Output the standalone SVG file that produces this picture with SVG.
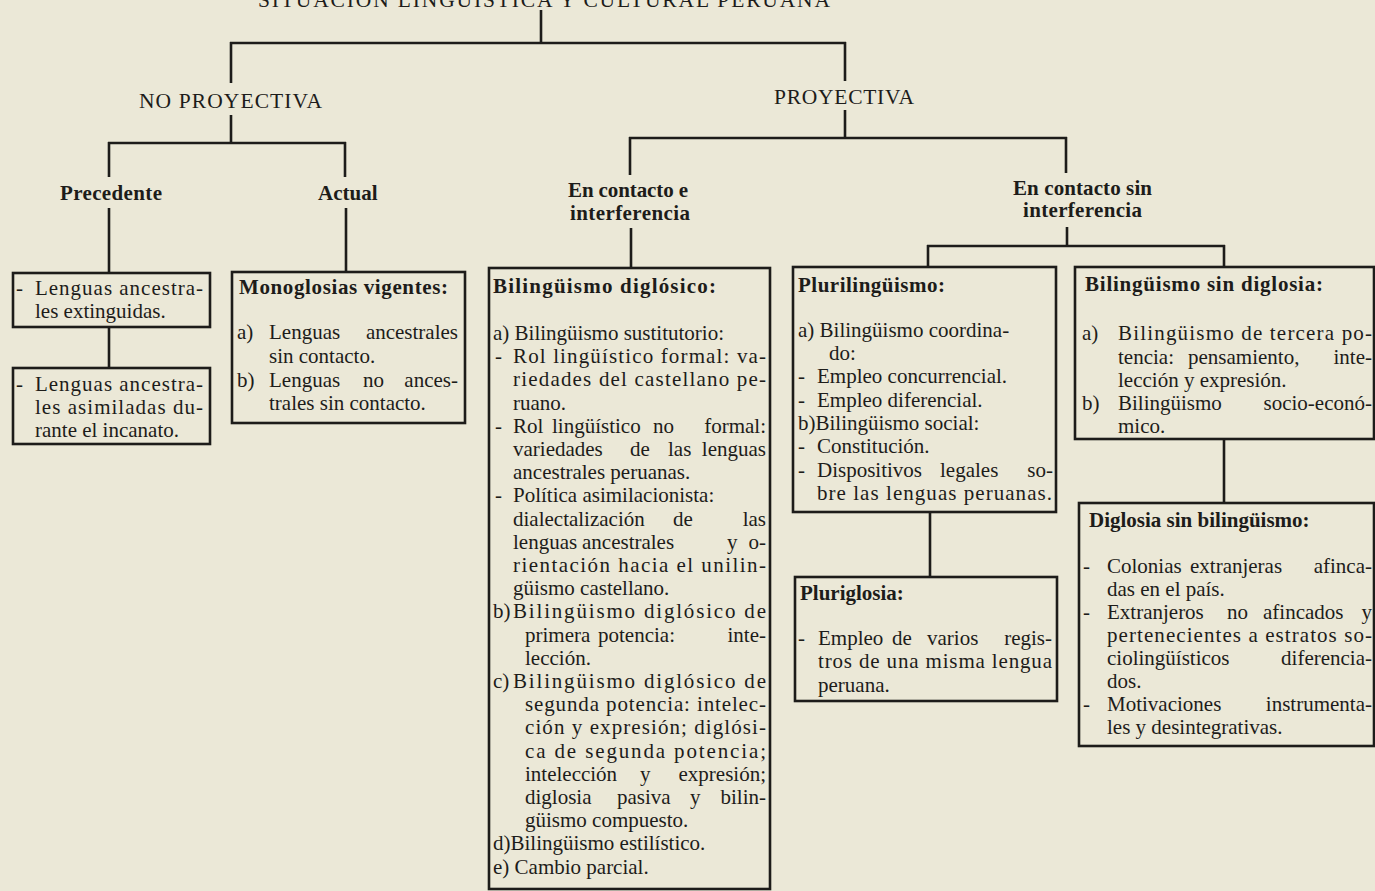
<svg xmlns="http://www.w3.org/2000/svg" width="1375" height="891" viewBox="0 0 1375 891">
<style>
text{font-family:"Liberation Serif","Times New Roman",serif;fill:#1d1c1a;font-size:21px}
.b{font-weight:bold}
.h{font-size:21.5px}
.e{text-anchor:end}
.box{fill:none;stroke:#1d1c1a;stroke-width:2.6}
.con line{stroke:#1d1c1a;stroke-width:2.6}
</style>
<rect x="0" y="0" width="1375" height="891" fill="#ebe8d7"/>

<g id="title">
<text class="h" x="258" y="7" textLength="572">SITUACIÓN LINGÜÍSTICA Y CULTURAL PERUANA</text>
</g>

<g class="con" id="connectors">
<line x1="541" y1="10" x2="541" y2="44"/>
<line x1="230" y1="43" x2="846" y2="43"/>
<line x1="231" y1="42" x2="231" y2="83"/>
<line x1="845" y1="42" x2="845" y2="81"/>
<line x1="231" y1="115" x2="231" y2="143"/>
<line x1="108" y1="143" x2="346" y2="143"/>
<line x1="109" y1="142" x2="109" y2="177"/>
<line x1="345" y1="142" x2="345" y2="177"/>
<line x1="109" y1="208" x2="109" y2="273"/>
<line x1="109" y1="327" x2="109" y2="368"/>
<line x1="346" y1="208" x2="346" y2="272"/>
<line x1="845" y1="110" x2="845" y2="138"/>
<line x1="629" y1="138" x2="1067" y2="138"/>
<line x1="630" y1="137" x2="630" y2="175"/>
<line x1="1066" y1="137" x2="1066" y2="173"/>
<line x1="631" y1="228" x2="631" y2="268"/>
<line x1="1067" y1="227" x2="1067" y2="246"/>
<line x1="927" y1="246" x2="1225" y2="246"/>
<line x1="928" y1="245" x2="928" y2="267"/>
<line x1="1224" y1="245" x2="1224" y2="267"/>
<line x1="930" y1="512" x2="930" y2="577"/>
<line x1="1224" y1="439" x2="1224" y2="503"/>
</g>

<g id="no-proyectiva">
<text class="h" x="139" y="108" textLength="183">NO PROYECTIVA</text>
</g>
<g id="proyectiva">
<text class="h" x="774" y="104" textLength="140">PROYECTIVA</text>
</g>
<g id="precedente">
<text class="b" x="60" y="200" textLength="102">Precedente</text>
</g>
<g id="actual">
<text class="b" x="318" y="200">Actual</text>
</g>
<g id="en-contacto-e">
<text class="b" x="568" y="197" textLength="120">En contacto e</text>
<text class="b" x="570" y="220" textLength="120">interferencia</text>
</g>
<g id="en-contacto-sin">
<text class="b" x="1013" y="195" textLength="139">En contacto sin</text>
<text class="b" x="1023" y="217" textLength="119">interferencia</text>
</g>

<g id="box-extinguidas">
<rect class="box" x="13" y="273" width="197" height="54"/>
<text x="16" y="295">-</text>
<text x="35" y="295" textLength="168">Lenguas ancestra-</text>
<text x="35" y="318">les extinguidas.</text>
</g>

<g id="box-asimiladas">
<rect class="box" x="13" y="368" width="197" height="76"/>
<text x="16" y="391">-</text>
<text x="35" y="391" textLength="168">Lenguas ancestra-</text>
<text x="35" y="414" textLength="168">les asimiladas du-</text>
<text x="35" y="437">rante el incanato.</text>
</g>

<g id="box-monoglosias">
<rect class="box" x="232" y="272" width="233" height="151"/>
<text class="b" x="239" y="294" textLength="209">Monoglosias vigentes:</text>
<text x="237" y="339">a)</text>
<text x="269" y="339">Lenguas</text>
<text class="e" x="458" y="339">ancestrales</text>
<text x="269" y="363">sin contacto.</text>
<text x="237" y="387">b)</text>
<text x="269" y="387">Lenguas</text>
<text x="363" y="387">no</text>
<text class="e" x="458" y="387">ances-</text>
<text x="269" y="410">trales sin contacto.</text>
</g>

<g id="box-bilinguismo-diglosico">
<rect class="box" x="489" y="268" width="281" height="621"/>
<text class="b" x="493" y="293" textLength="223">Bilingüismo diglósico:</text>
<text x="493" y="340">a) Bilingüismo sustitutorio:</text>
<text x="495" y="363">-</text>
<text x="513" y="363" textLength="253">Rol lingüístico formal: va-</text>
<text x="513" y="386" textLength="253">riedades del castellano pe-</text>
<text x="513" y="410">ruano.</text>
<text x="495" y="433">-</text>
<text x="513" y="433">Rol</text>
<text x="552" y="433">lingüístico</text>
<text x="653" y="433">no</text>
<text class="e" x="766" y="433">formal:</text>
<text x="513" y="456">variedades</text>
<text x="630" y="456">de</text>
<text x="668" y="456">las</text>
<text class="e" x="766" y="456">lenguas</text>
<text x="513" y="479">ancestrales peruanas.</text>
<text x="495" y="502">-</text>
<text x="513" y="502">Política asimilacionista:</text>
<text x="513" y="526">dialectalización</text>
<text x="673" y="526">de</text>
<text class="e" x="766" y="526">las</text>
<text x="513" y="549">lenguas</text>
<text x="582" y="549">ancestrales</text>
<text x="727" y="549">y</text>
<text class="e" x="766" y="549">o-</text>
<text x="513" y="572" textLength="253">rientación hacia el unilin-</text>
<text x="513" y="595">güismo castellano.</text>
<text x="493" y="618">b)</text>
<text x="513" y="618" textLength="253">Bilingüismo diglósico de</text>
<text x="525" y="642">primera</text>
<text x="598" y="642">potencia:</text>
<text class="e" x="766" y="642">inte-</text>
<text x="525" y="665">lección.</text>
<text x="493" y="688">c)</text>
<text x="513" y="688" textLength="253">Bilingüismo diglósico de</text>
<text x="525" y="711" textLength="241">segunda potencia: intelec-</text>
<text x="525" y="734" textLength="241">ción y expresión; diglósi-</text>
<text x="525" y="758" textLength="241">ca de segunda potencia;</text>
<text x="525" y="781">intelección</text>
<text x="640" y="781">y</text>
<text class="e" x="766" y="781">expresión;</text>
<text x="525" y="804">diglosia</text>
<text x="617" y="804">pasiva</text>
<text x="690" y="804">y</text>
<text class="e" x="766" y="804">bilin-</text>
<text x="525" y="827">güismo compuesto.</text>
<text x="493" y="850">d)Bilingüismo estilístico.</text>
<text x="493" y="874">e) Cambio parcial.</text>
</g>

<g id="box-plurilinguismo">
<rect class="box" x="793" y="267" width="263" height="245"/>
<text class="b" x="798" y="292" textLength="147">Plurilingüismo:</text>
<text x="798" y="337">a) Bilingüismo coordina-</text>
<text x="829" y="360">do:</text>
<text x="798" y="383">-</text>
<text x="817" y="383">Empleo concurrencial.</text>
<text x="798" y="407">-</text>
<text x="817" y="407">Empleo diferencial.</text>
<text x="798" y="430">b)Bilingüismo social:</text>
<text x="798" y="453">-</text>
<text x="817" y="453">Constitución.</text>
<text x="798" y="477">-</text>
<text x="817" y="477">Dispositivos</text>
<text x="940" y="477">legales</text>
<text class="e" x="1053" y="477">so-</text>
<text x="817" y="500" textLength="235">bre las lenguas peruanas.</text>
</g>

<g id="box-pluriglosia">
<rect class="box" x="795" y="577" width="262" height="124"/>
<text class="b" x="800" y="600">Pluriglosia:</text>
<text x="798" y="645">-</text>
<text x="818" y="645">Empleo</text>
<text x="892" y="645">de</text>
<text x="927" y="645">varios</text>
<text class="e" x="1052" y="645">regis-</text>
<text x="818" y="668" textLength="234">tros de una misma lengua</text>
<text x="818" y="692">peruana.</text>
</g>

<g id="box-bilinguismo-sin-diglosia">
<rect class="box" x="1075" y="267" width="299" height="172"/>
<text class="b" x="1085" y="291" textLength="238">Bilingüismo sin diglosia:</text>
<text x="1082" y="340">a)</text>
<text x="1118" y="340" textLength="254">Bilingüismo de tercera po-</text>
<text x="1118" y="364">tencia:</text>
<text x="1188" y="364">pensamiento,</text>
<text class="e" x="1372" y="364">inte-</text>
<text x="1118" y="387">lección y expresión.</text>
<text x="1082" y="410">b)</text>
<text x="1118" y="410">Bilingüismo</text>
<text class="e" x="1372" y="410">socio-econó-</text>
<text x="1118" y="433">mico.</text>
</g>

<g id="box-diglosia-sin-bilinguismo">
<rect class="box" x="1079" y="503" width="295" height="243"/>
<text class="b" x="1089" y="527">Diglosia sin bilingüismo:</text>
<text x="1083" y="573">-</text>
<text x="1107" y="573">Colonias</text>
<text x="1190" y="573">extranjeras</text>
<text class="e" x="1372" y="573">afinca-</text>
<text x="1107" y="596">das en el país.</text>
<text x="1083" y="619">-</text>
<text x="1107" y="619">Extranjeros</text>
<text x="1227" y="619">no</text>
<text x="1263" y="619">afincados</text>
<text class="e" x="1372" y="619">y</text>
<text x="1107" y="642" textLength="265">pertenecientes a estratos so-</text>
<text x="1107" y="665">ciolingüísticos</text>
<text class="e" x="1372" y="665">diferencia-</text>
<text x="1107" y="688">dos.</text>
<text x="1083" y="711">-</text>
<text x="1107" y="711">Motivaciones</text>
<text class="e" x="1372" y="711">instrumenta-</text>
<text x="1107" y="734">les y desintegrativas.</text>
</g>
</svg>
